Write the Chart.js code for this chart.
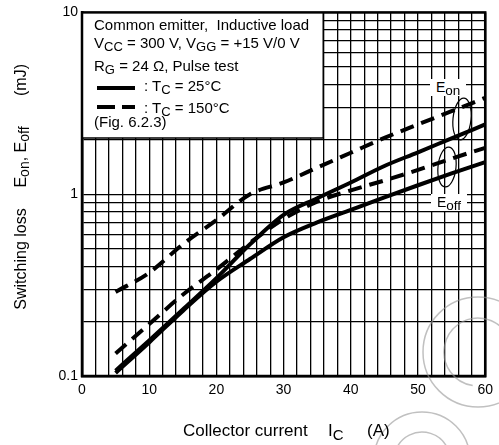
<!DOCTYPE html>
<html>
<head>
<meta charset="utf-8">
<script src="https://cdn.jsdelivr.net/npm/chart.js@4.4.1/dist/chart.umd.min.js"></script>
<style>
    body { margin: 0; background: #fff; }
    #wrap { position: relative; width: 499px; height: 445px; }
    .t { position: absolute; font-family: "Liberation Sans", Arial, sans-serif; white-space: pre; color: #000; }
    .box { font-size: 15px; line-height: 15px; }
    .s { font-size: 13px; position: relative; top: 2.5px; }
    .xt { font-size: 17px; line-height: 17px; }
    .yt { font-size: 16px; line-height: 16px; transform: translate(-50%, -50%) rotate(-90deg); }
    .lab { font-size: 14px; line-height: 17px; background: #fff; padding: 0 6px; }
</style>
</head>
<body>
<div id="wrap">
    <canvas id="lossChart" width="499" height="445"></canvas>

    <div class="t box" style="left:94px;top:17.3px">Common emitter,  Inductive load</div>
    <div class="t box" style="left:94px;top:35.3px">V<span class="s">CC</span> = 300 V, V<span class="s">GG</span> = +15 V/0 V</div>
    <div class="t box" style="left:94px;top:58.3px">R<span class="s">G</span> = 24 Ω, Pulse test</div>
    <div class="t box" style="left:144px;top:78.3px">: T<span class="s">C</span> = 25°C</div>
    <div class="t box" style="left:144px;top:100.3px">: T<span class="s">C</span> = 150°C</div>
    <div class="t box" style="left:94px;top:114.3px">(Fig. 6.2.3)</div>

    <div class="t lab" style="left:430px;top:79px">E<span class="s" style="font-size:13.5px;top:3px">on</span></div>
    <div class="t lab" style="left:431px;top:193.6px">E<span class="s" style="font-size:13.5px;top:3px">off</span></div>

    <div class="t xt" style="left:183px;top:422.3px">Collector current</div>
    <div class="t xt" style="left:328px;top:422.3px">I<span class="s" style="font-size:15px;top:4px">C</span></div>
    <div class="t xt" style="left:367px;top:422.3px">(A)</div>

    <div class="t yt" style="left:20.5px;top:259px">Switching loss</div>
    <div class="t yt" style="left:20.5px;top:156.5px">E<span class="s" style="font-size:14px;top:3px">on</span>, E<span class="s" style="font-size:14px;top:3px">off</span></div>
    <div class="t yt" style="left:20.5px;top:79.5px">(mJ)</div>
</div>

<script>
// collector current (A)
const currents = [5, 10, 15, 20, 25, 30, 35, 40, 45, 50, 55, 60];
// switching loss (mJ)
const eon25 = [0.107, 0.157, 0.232, 0.345, 0.53, 0.77, 0.95, 1.16, 1.43, 1.70, 2.03, 2.42];
const eoff25 = [0.104, 0.153, 0.228, 0.33, 0.44, 0.58, 0.70, 0.82, 0.96, 1.12, 1.30, 1.50];
const eon150 = [0.29, 0.37, 0.53, 0.72, 1.0, 1.16, 1.40, 1.69, 2.04, 2.42, 2.86, 3.39];
const eoff150 = [0.133, 0.193, 0.28, 0.385, 0.54, 0.73, 0.91, 1.05, 1.19, 1.36, 1.57, 1.80];

const yGridValues = [0.1, 0.2, 0.3, 0.4, 0.5, 0.6, 0.7, 0.8, 0.9, 1, 2, 3, 4, 5, 6, 7, 8, 9, 10];
const yLabels = [0.1, 1, 10];
const xLabels = [0, 10, 20, 30, 40, 50, 60];

const toPoints = (ys) => currents.map((x, i) => ({ x: x, y: ys[i] }));

const lineStyle = (dashed) => ({
    borderColor: '#000',
    borderWidth: 4,
    borderDash: dashed ? [14, 8] : [],
    pointRadius: 0,
    cubicInterpolationMode: 'monotone',
    fill: false
});

const decorPlugin = {
    id: 'decor',
    beforeDatasetsDraw(chart) {
        const ctx = chart.ctx;
        const xs = chart.scales.x;
        const ys = chart.scales.y;
        const l = xs.getPixelForValue(0);
        const r = xs.getPixelForValue(35.9);
        const t = ys.getPixelForValue(10);
        const b = ys.getPixelForValue(2.04);
        ctx.save();
        ctx.fillStyle = '#fff';
        ctx.fillRect(l, t, r - l, b - t);
        ctx.strokeStyle = '#000';
        ctx.lineWidth = 1.5;
        ctx.beginPath();
        ctx.moveTo(r, t);
        ctx.lineTo(r, b);
        ctx.lineTo(l, b);
        ctx.stroke();

        // legend samples
        ctx.lineWidth = 4;
        ctx.beginPath();
        ctx.moveTo(97, 88);
        ctx.lineTo(135, 88);
        ctx.stroke();
        ctx.setLineDash([18, 7]);
        ctx.beginPath();
        ctx.moveTo(97, 107);
        ctx.lineTo(135, 107);
        ctx.stroke();
        ctx.restore();
    },
    afterDraw(chart) {
        const ctx = chart.ctx;
        const a = chart.chartArea;
        ctx.save();
        ctx.strokeStyle = '#000';
        ctx.lineWidth = 2.5;
        ctx.strokeRect(a.left, a.top, a.right - a.left, a.bottom - a.top);

        // Eon / Eoff ellipses
        ctx.lineWidth = 1.2;
        ctx.beginPath();
        ctx.ellipse(462, 119, 9, 21, 0.1, 0, Math.PI * 2);
        ctx.stroke();
        ctx.beginPath();
        ctx.ellipse(447, 167, 9, 20, 0.1, 0, Math.PI * 2);
        ctx.stroke();

        // faint watermark
        ctx.strokeStyle = 'rgba(150,150,150,0.6)';
        ctx.lineWidth = 1.5;
        ctx.beginPath();
        ctx.arc(478, 352, 55, 0, Math.PI * 2);
        ctx.stroke();
        ctx.beginPath();
        ctx.arc(478, 352, 34, Math.PI * 0.55, Math.PI * 1.75);
        ctx.stroke();
        ctx.beginPath();
        ctx.arc(422, 460, 48, Math.PI, Math.PI * 2);
        ctx.stroke();
        ctx.beginPath();
        ctx.arc(422, 460, 28, Math.PI * 1.1, Math.PI * 1.9);
        ctx.stroke();
        ctx.restore();
    }
};

new Chart(document.getElementById('lossChart'), {
    type: 'line',
    data: {
        datasets: [
            { label: 'Eon 25°C', data: toPoints(eon25), ...lineStyle(false) },
            { label: 'Eoff 25°C', data: toPoints(eoff25), ...lineStyle(false) },
            { label: 'Eon 150°C', data: toPoints(eon150), ...lineStyle(true) },
            { label: 'Eoff 150°C', data: toPoints(eoff150), ...lineStyle(true) }
        ]
    },
    options: {
        responsive: false,
        animation: false,
        layout: { padding: { top: 11, right: 9, left: 0, bottom: 0 } },
        plugins: {
            legend: { display: false },
            tooltip: { enabled: false }
        },
        scales: {
            x: {
                type: 'linear',
                min: 0,
                max: 60,
                afterFit: (scale) => { scale.height = 69; },
                grid: { color: '#000', lineWidth: 1.3, drawTicks: false },
                border: { color: '#000', width: 2.5 },
                ticks: {
                    stepSize: 2,
                    autoSkip: false,
                    maxRotation: 0,
                    padding: 6,
                    color: '#000',
                    font: { family: 'Liberation Sans', size: 14 },
                    callback: (v) => xLabels.includes(v) ? String(v) : ''
                }
            },
            y: {
                type: 'logarithmic',
                min: 0.1,
                max: 10,
                afterFit: (scale) => { scale.width = 82; },
                afterBuildTicks: (scale) => {
                    scale.ticks = yGridValues.map(v => ({ value: v }));
                },
                grid: { color: '#000', lineWidth: 1.3, drawTicks: false },
                border: { color: '#000', width: 2.5 },
                ticks: {
                    autoSkip: false,
                    padding: 4,
                    color: '#000',
                    font: { family: 'Liberation Sans', size: 14 },
                    callback: (v) => yLabels.includes(v) ? String(v) : ''
                }
            }
        }
    },
    plugins: [decorPlugin]
});
</script>
</body>
</html>
